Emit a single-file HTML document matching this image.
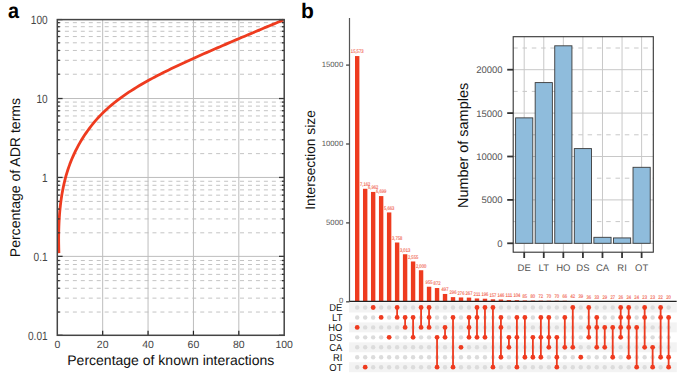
<!DOCTYPE html>
<html><head><meta charset="utf-8"><style>
html,body{margin:0;padding:0;background:#fff;}
svg{display:block;text-rendering:geometricPrecision;}
</style></head><body>
<svg width="685" height="377" viewBox="0 0 685 377">
<rect width="685" height="377" fill="#fff"/>
<text transform="translate(7.9,17.75) scale(0.93,1)" font-family="Liberation Sans, sans-serif" font-size="21.4" font-weight="bold" fill="#000">a</text>
<line x1="56.94" x2="284.2" y1="312.04" y2="312.04" stroke="#c4c4c4" stroke-width="1" stroke-dasharray="4 3.96"/>
<line x1="56.94" x2="284.2" y1="298.14" y2="298.14" stroke="#c4c4c4" stroke-width="1" stroke-dasharray="4 3.96"/>
<line x1="56.94" x2="284.2" y1="288.28" y2="288.28" stroke="#c4c4c4" stroke-width="1" stroke-dasharray="4 3.96"/>
<line x1="56.94" x2="284.2" y1="280.63" y2="280.63" stroke="#c4c4c4" stroke-width="1" stroke-dasharray="4 3.96"/>
<line x1="56.94" x2="284.2" y1="274.38" y2="274.38" stroke="#c4c4c4" stroke-width="1" stroke-dasharray="4 3.96"/>
<line x1="56.94" x2="284.2" y1="269.10" y2="269.10" stroke="#c4c4c4" stroke-width="1" stroke-dasharray="4 3.96"/>
<line x1="56.94" x2="284.2" y1="264.52" y2="264.52" stroke="#c4c4c4" stroke-width="1" stroke-dasharray="4 3.96"/>
<line x1="56.94" x2="284.2" y1="260.49" y2="260.49" stroke="#c4c4c4" stroke-width="1" stroke-dasharray="4 3.96"/>
<line x1="56.94" x2="284.2" y1="232.82" y2="232.82" stroke="#c4c4c4" stroke-width="1" stroke-dasharray="4 3.96"/>
<line x1="56.94" x2="284.2" y1="218.92" y2="218.92" stroke="#c4c4c4" stroke-width="1" stroke-dasharray="4 3.96"/>
<line x1="56.94" x2="284.2" y1="209.06" y2="209.06" stroke="#c4c4c4" stroke-width="1" stroke-dasharray="4 3.96"/>
<line x1="56.94" x2="284.2" y1="201.41" y2="201.41" stroke="#c4c4c4" stroke-width="1" stroke-dasharray="4 3.96"/>
<line x1="56.94" x2="284.2" y1="195.16" y2="195.16" stroke="#c4c4c4" stroke-width="1" stroke-dasharray="4 3.96"/>
<line x1="56.94" x2="284.2" y1="189.88" y2="189.88" stroke="#c4c4c4" stroke-width="1" stroke-dasharray="4 3.96"/>
<line x1="56.94" x2="284.2" y1="185.30" y2="185.30" stroke="#c4c4c4" stroke-width="1" stroke-dasharray="4 3.96"/>
<line x1="56.94" x2="284.2" y1="181.26" y2="181.26" stroke="#c4c4c4" stroke-width="1" stroke-dasharray="4 3.96"/>
<line x1="56.94" x2="284.2" y1="153.64" y2="153.64" stroke="#c4c4c4" stroke-width="1" stroke-dasharray="4 3.96"/>
<line x1="56.94" x2="284.2" y1="139.74" y2="139.74" stroke="#c4c4c4" stroke-width="1" stroke-dasharray="4 3.96"/>
<line x1="56.94" x2="284.2" y1="129.88" y2="129.88" stroke="#c4c4c4" stroke-width="1" stroke-dasharray="4 3.96"/>
<line x1="56.94" x2="284.2" y1="122.23" y2="122.23" stroke="#c4c4c4" stroke-width="1" stroke-dasharray="4 3.96"/>
<line x1="56.94" x2="284.2" y1="115.98" y2="115.98" stroke="#c4c4c4" stroke-width="1" stroke-dasharray="4 3.96"/>
<line x1="56.94" x2="284.2" y1="110.70" y2="110.70" stroke="#c4c4c4" stroke-width="1" stroke-dasharray="4 3.96"/>
<line x1="56.94" x2="284.2" y1="106.12" y2="106.12" stroke="#c4c4c4" stroke-width="1" stroke-dasharray="4 3.96"/>
<line x1="56.94" x2="284.2" y1="102.09" y2="102.09" stroke="#c4c4c4" stroke-width="1" stroke-dasharray="4 3.96"/>
<line x1="56.94" x2="284.2" y1="74.22" y2="74.22" stroke="#c4c4c4" stroke-width="1" stroke-dasharray="4 3.96"/>
<line x1="56.94" x2="284.2" y1="60.32" y2="60.32" stroke="#c4c4c4" stroke-width="1" stroke-dasharray="4 3.96"/>
<line x1="56.94" x2="284.2" y1="50.46" y2="50.46" stroke="#c4c4c4" stroke-width="1" stroke-dasharray="4 3.96"/>
<line x1="56.94" x2="284.2" y1="42.81" y2="42.81" stroke="#c4c4c4" stroke-width="1" stroke-dasharray="4 3.96"/>
<line x1="56.94" x2="284.2" y1="36.56" y2="36.56" stroke="#c4c4c4" stroke-width="1" stroke-dasharray="4 3.96"/>
<line x1="56.94" x2="284.2" y1="31.28" y2="31.28" stroke="#c4c4c4" stroke-width="1" stroke-dasharray="4 3.96"/>
<line x1="56.94" x2="284.2" y1="26.70" y2="26.70" stroke="#c4c4c4" stroke-width="1" stroke-dasharray="4 3.96"/>
<line x1="56.94" x2="284.2" y1="22.66" y2="22.66" stroke="#c4c4c4" stroke-width="1" stroke-dasharray="4 3.96"/>
<line x1="57.3" x2="284.2" y1="256.38" y2="256.38" stroke="#bdbdbd" stroke-width="1"/>
<line x1="57.3" x2="284.2" y1="177.45" y2="177.45" stroke="#bdbdbd" stroke-width="1"/>
<line x1="57.3" x2="284.2" y1="98.53" y2="98.53" stroke="#bdbdbd" stroke-width="1"/>
<line x1="102.68" x2="102.68" y1="19.6" y2="335.3" stroke="#bdbdbd" stroke-width="1"/>
<line x1="148.06" x2="148.06" y1="19.6" y2="335.3" stroke="#bdbdbd" stroke-width="1"/>
<line x1="193.44" x2="193.44" y1="19.6" y2="335.3" stroke="#bdbdbd" stroke-width="1"/>
<line x1="238.82" x2="238.82" y1="19.6" y2="335.3" stroke="#bdbdbd" stroke-width="1"/>
<path d="M58.91,253.11 L58.83,250.21 L58.76,247.30 L58.71,244.37 L58.67,241.42 L58.66,238.46 L58.68,235.48 L58.71,232.50 L58.78,229.50 L58.87,226.50 L58.99,223.49 L59.14,220.47 L59.32,217.46 L59.53,214.44 L59.78,211.42 L60.07,208.40 L60.39,205.38 L60.76,202.37 L61.16,199.37 L61.61,196.37 L62.10,193.38 L62.64,190.41 L63.22,187.44 L63.85,184.49 L64.54,181.56 L65.27,178.64 L66.06,175.74 L66.90,172.86 L67.80,170.00 L68.76,167.17 L69.77,164.36 L70.84,161.58 L71.96,158.82 L73.14,156.08 L74.37,153.38 L75.66,150.70 L77.00,148.06 L78.39,145.44 L79.83,142.86 L81.33,140.31 L82.88,137.79 L84.48,135.30 L86.14,132.85 L87.84,130.44 L89.59,128.07 L91.39,125.73 L93.24,123.43 L95.14,121.17 L97.09,118.95 L99.09,116.77 L101.13,114.64 L103.22,112.55 L105.36,110.50 L107.54,108.50 L109.76,106.54 L112.03,104.61 L114.33,102.73 L116.67,100.89 L119.04,99.08 L121.45,97.31 L123.89,95.57 L126.36,93.87 L128.85,92.20 L131.37,90.56 L133.92,88.95 L136.48,87.36 L139.07,85.81 L141.67,84.28 L144.29,82.77 L146.92,81.29 L149.57,79.83 L152.23,78.39 L154.89,76.97 L157.56,75.57 L160.24,74.19 L162.93,72.82 L165.62,71.47 L168.32,70.14 L171.02,68.82 L173.73,67.51 L176.45,66.22 L179.16,64.94 L181.88,63.67 L184.61,62.42 L187.34,61.17 L190.06,59.93 L192.79,58.70 L195.53,57.47 L198.26,56.26 L200.99,55.05 L203.72,53.84 L206.45,52.64 L209.18,51.44 L211.92,50.25 L214.65,49.06 L217.38,47.87 L220.11,46.69 L222.85,45.51 L225.58,44.34 L228.32,43.16 L231.05,41.99 L233.79,40.83 L236.53,39.66 L239.27,38.50 L242.01,37.33 L244.75,36.17 L247.50,35.01 L250.25,33.86 L252.99,32.70 L255.75,31.54 L258.50,30.38 L261.26,29.23 L264.02,28.07 L266.78,26.91 L269.55,25.76 L272.31,24.60 L275.09,23.44 L277.86,22.28 L280.64,21.12 L283.42,19.95" fill="none" stroke="#ee3b1f" stroke-width="2.8" stroke-linejoin="round"/>
<line x1="57.3" x2="62.599999999999994" y1="335.30" y2="335.30" stroke="#333" stroke-width="1.3"/>
<line x1="284.2" x2="279.0" y1="335.30" y2="335.30" stroke="#333" stroke-width="1.3"/>
<line x1="57.3" x2="59.8" y1="312.04" y2="312.04" stroke="#333" stroke-width="1.3"/>
<line x1="284.2" x2="281.9" y1="312.04" y2="312.04" stroke="#333" stroke-width="1.3"/>
<line x1="57.3" x2="59.8" y1="298.14" y2="298.14" stroke="#333" stroke-width="1.3"/>
<line x1="284.2" x2="281.9" y1="298.14" y2="298.14" stroke="#333" stroke-width="1.3"/>
<line x1="57.3" x2="59.8" y1="288.28" y2="288.28" stroke="#333" stroke-width="1.3"/>
<line x1="284.2" x2="281.9" y1="288.28" y2="288.28" stroke="#333" stroke-width="1.3"/>
<line x1="57.3" x2="59.8" y1="280.63" y2="280.63" stroke="#333" stroke-width="1.3"/>
<line x1="284.2" x2="281.9" y1="280.63" y2="280.63" stroke="#333" stroke-width="1.3"/>
<line x1="57.3" x2="59.8" y1="274.38" y2="274.38" stroke="#333" stroke-width="1.3"/>
<line x1="284.2" x2="281.9" y1="274.38" y2="274.38" stroke="#333" stroke-width="1.3"/>
<line x1="57.3" x2="59.8" y1="269.10" y2="269.10" stroke="#333" stroke-width="1.3"/>
<line x1="284.2" x2="281.9" y1="269.10" y2="269.10" stroke="#333" stroke-width="1.3"/>
<line x1="57.3" x2="59.8" y1="264.52" y2="264.52" stroke="#333" stroke-width="1.3"/>
<line x1="284.2" x2="281.9" y1="264.52" y2="264.52" stroke="#333" stroke-width="1.3"/>
<line x1="57.3" x2="59.8" y1="260.49" y2="260.49" stroke="#333" stroke-width="1.3"/>
<line x1="284.2" x2="281.9" y1="260.49" y2="260.49" stroke="#333" stroke-width="1.3"/>
<line x1="57.3" x2="62.599999999999994" y1="256.38" y2="256.38" stroke="#333" stroke-width="1.3"/>
<line x1="284.2" x2="279.0" y1="256.38" y2="256.38" stroke="#333" stroke-width="1.3"/>
<line x1="57.3" x2="59.8" y1="232.82" y2="232.82" stroke="#333" stroke-width="1.3"/>
<line x1="284.2" x2="281.9" y1="232.82" y2="232.82" stroke="#333" stroke-width="1.3"/>
<line x1="57.3" x2="59.8" y1="218.92" y2="218.92" stroke="#333" stroke-width="1.3"/>
<line x1="284.2" x2="281.9" y1="218.92" y2="218.92" stroke="#333" stroke-width="1.3"/>
<line x1="57.3" x2="59.8" y1="209.06" y2="209.06" stroke="#333" stroke-width="1.3"/>
<line x1="284.2" x2="281.9" y1="209.06" y2="209.06" stroke="#333" stroke-width="1.3"/>
<line x1="57.3" x2="59.8" y1="201.41" y2="201.41" stroke="#333" stroke-width="1.3"/>
<line x1="284.2" x2="281.9" y1="201.41" y2="201.41" stroke="#333" stroke-width="1.3"/>
<line x1="57.3" x2="59.8" y1="195.16" y2="195.16" stroke="#333" stroke-width="1.3"/>
<line x1="284.2" x2="281.9" y1="195.16" y2="195.16" stroke="#333" stroke-width="1.3"/>
<line x1="57.3" x2="59.8" y1="189.88" y2="189.88" stroke="#333" stroke-width="1.3"/>
<line x1="284.2" x2="281.9" y1="189.88" y2="189.88" stroke="#333" stroke-width="1.3"/>
<line x1="57.3" x2="59.8" y1="185.30" y2="185.30" stroke="#333" stroke-width="1.3"/>
<line x1="284.2" x2="281.9" y1="185.30" y2="185.30" stroke="#333" stroke-width="1.3"/>
<line x1="57.3" x2="59.8" y1="181.26" y2="181.26" stroke="#333" stroke-width="1.3"/>
<line x1="284.2" x2="281.9" y1="181.26" y2="181.26" stroke="#333" stroke-width="1.3"/>
<line x1="57.3" x2="62.599999999999994" y1="177.45" y2="177.45" stroke="#333" stroke-width="1.3"/>
<line x1="284.2" x2="279.0" y1="177.45" y2="177.45" stroke="#333" stroke-width="1.3"/>
<line x1="57.3" x2="59.8" y1="153.64" y2="153.64" stroke="#333" stroke-width="1.3"/>
<line x1="284.2" x2="281.9" y1="153.64" y2="153.64" stroke="#333" stroke-width="1.3"/>
<line x1="57.3" x2="59.8" y1="139.74" y2="139.74" stroke="#333" stroke-width="1.3"/>
<line x1="284.2" x2="281.9" y1="139.74" y2="139.74" stroke="#333" stroke-width="1.3"/>
<line x1="57.3" x2="59.8" y1="129.88" y2="129.88" stroke="#333" stroke-width="1.3"/>
<line x1="284.2" x2="281.9" y1="129.88" y2="129.88" stroke="#333" stroke-width="1.3"/>
<line x1="57.3" x2="59.8" y1="122.23" y2="122.23" stroke="#333" stroke-width="1.3"/>
<line x1="284.2" x2="281.9" y1="122.23" y2="122.23" stroke="#333" stroke-width="1.3"/>
<line x1="57.3" x2="59.8" y1="115.98" y2="115.98" stroke="#333" stroke-width="1.3"/>
<line x1="284.2" x2="281.9" y1="115.98" y2="115.98" stroke="#333" stroke-width="1.3"/>
<line x1="57.3" x2="59.8" y1="110.70" y2="110.70" stroke="#333" stroke-width="1.3"/>
<line x1="284.2" x2="281.9" y1="110.70" y2="110.70" stroke="#333" stroke-width="1.3"/>
<line x1="57.3" x2="59.8" y1="106.12" y2="106.12" stroke="#333" stroke-width="1.3"/>
<line x1="284.2" x2="281.9" y1="106.12" y2="106.12" stroke="#333" stroke-width="1.3"/>
<line x1="57.3" x2="59.8" y1="102.09" y2="102.09" stroke="#333" stroke-width="1.3"/>
<line x1="284.2" x2="281.9" y1="102.09" y2="102.09" stroke="#333" stroke-width="1.3"/>
<line x1="57.3" x2="62.599999999999994" y1="98.53" y2="98.53" stroke="#333" stroke-width="1.3"/>
<line x1="284.2" x2="279.0" y1="98.53" y2="98.53" stroke="#333" stroke-width="1.3"/>
<line x1="57.3" x2="59.8" y1="74.22" y2="74.22" stroke="#333" stroke-width="1.3"/>
<line x1="284.2" x2="281.9" y1="74.22" y2="74.22" stroke="#333" stroke-width="1.3"/>
<line x1="57.3" x2="59.8" y1="60.32" y2="60.32" stroke="#333" stroke-width="1.3"/>
<line x1="284.2" x2="281.9" y1="60.32" y2="60.32" stroke="#333" stroke-width="1.3"/>
<line x1="57.3" x2="59.8" y1="50.46" y2="50.46" stroke="#333" stroke-width="1.3"/>
<line x1="284.2" x2="281.9" y1="50.46" y2="50.46" stroke="#333" stroke-width="1.3"/>
<line x1="57.3" x2="59.8" y1="42.81" y2="42.81" stroke="#333" stroke-width="1.3"/>
<line x1="284.2" x2="281.9" y1="42.81" y2="42.81" stroke="#333" stroke-width="1.3"/>
<line x1="57.3" x2="59.8" y1="36.56" y2="36.56" stroke="#333" stroke-width="1.3"/>
<line x1="284.2" x2="281.9" y1="36.56" y2="36.56" stroke="#333" stroke-width="1.3"/>
<line x1="57.3" x2="59.8" y1="31.28" y2="31.28" stroke="#333" stroke-width="1.3"/>
<line x1="284.2" x2="281.9" y1="31.28" y2="31.28" stroke="#333" stroke-width="1.3"/>
<line x1="57.3" x2="59.8" y1="26.70" y2="26.70" stroke="#333" stroke-width="1.3"/>
<line x1="284.2" x2="281.9" y1="26.70" y2="26.70" stroke="#333" stroke-width="1.3"/>
<line x1="57.3" x2="59.8" y1="22.66" y2="22.66" stroke="#333" stroke-width="1.3"/>
<line x1="284.2" x2="281.9" y1="22.66" y2="22.66" stroke="#333" stroke-width="1.3"/>
<line x1="57.3" x2="62.599999999999994" y1="19.60" y2="19.60" stroke="#333" stroke-width="1.3"/>
<line x1="284.2" x2="279.0" y1="19.60" y2="19.60" stroke="#333" stroke-width="1.3"/>
<line x1="102.68" x2="102.68" y1="335.3" y2="330.8" stroke="#222" stroke-width="1.2"/>
<line x1="148.06" x2="148.06" y1="335.3" y2="330.8" stroke="#222" stroke-width="1.2"/>
<line x1="193.44" x2="193.44" y1="335.3" y2="330.8" stroke="#222" stroke-width="1.2"/>
<line x1="238.82" x2="238.82" y1="335.3" y2="330.8" stroke="#222" stroke-width="1.2"/>
<rect x="57.3" y="19.6" width="226.90" height="315.70" fill="none" stroke="#444" stroke-width="1.5"/>
<text transform="translate(47.6,24.10) scale(0.84,1)" font-family="Liberation Sans, sans-serif" font-size="12" fill="#444" text-anchor="end">100</text>
<text transform="translate(47.6,103.03) scale(0.84,1)" font-family="Liberation Sans, sans-serif" font-size="12" fill="#444" text-anchor="end">10</text>
<text transform="translate(47.6,181.95) scale(0.84,1)" font-family="Liberation Sans, sans-serif" font-size="12" fill="#444" text-anchor="end">1</text>
<text transform="translate(47.6,260.88) scale(0.84,1)" font-family="Liberation Sans, sans-serif" font-size="12" fill="#444" text-anchor="end">0.1</text>
<text transform="translate(47.6,339.80) scale(0.84,1)" font-family="Liberation Sans, sans-serif" font-size="12" fill="#444" text-anchor="end">0.01</text>
<text x="57.30" y="348" font-family="Liberation Sans, sans-serif" font-size="10.5" fill="#444" text-anchor="middle">0</text>
<text x="102.68" y="348" font-family="Liberation Sans, sans-serif" font-size="10.5" fill="#444" text-anchor="middle">20</text>
<text x="148.06" y="348" font-family="Liberation Sans, sans-serif" font-size="10.5" fill="#444" text-anchor="middle">40</text>
<text x="193.44" y="348" font-family="Liberation Sans, sans-serif" font-size="10.5" fill="#444" text-anchor="middle">60</text>
<text x="238.82" y="348" font-family="Liberation Sans, sans-serif" font-size="10.5" fill="#444" text-anchor="middle">80</text>
<text x="284.20" y="348" font-family="Liberation Sans, sans-serif" font-size="10.5" fill="#444" text-anchor="middle">100</text>
<text x="170.8" y="364.6" font-family="Liberation Sans, sans-serif" font-size="14" fill="#111" text-anchor="middle">Percentage of known interactions</text>
<text transform="translate(19.8,177.6) rotate(-90)" font-family="Liberation Sans, sans-serif" font-size="14.05" fill="#111" text-anchor="middle">Percentage of ADR terms</text>
<text x="301" y="17.7" font-family="Liberation Sans, sans-serif" font-size="21" font-weight="bold" fill="#000">b</text>
<rect x="349" y="302.52" width="327.8" height="9.95" fill="#f3f3f3"/>
<rect x="349" y="322.42" width="327.8" height="9.95" fill="#f3f3f3"/>
<rect x="349" y="342.32" width="327.8" height="9.95" fill="#f3f3f3"/>
<rect x="349" y="362.22" width="327.8" height="9.95" fill="#f3f3f3"/>
<rect x="355.00" y="56.06" width="4.4" height="245.74" fill="#ee3b1f"/>
<text x="357.20" y="53.36" font-family="Liberation Sans, sans-serif" font-size="5.2" fill="#ee4a35" stroke="#f58a78" stroke-width="0.15" text-anchor="middle" textLength="12.72" lengthAdjust="spacingAndGlyphs">15,573</text>
<rect x="362.99" y="188.78" width="4.4" height="113.02" fill="#ee3b1f"/>
<text x="365.19" y="186.08" font-family="Liberation Sans, sans-serif" font-size="5.2" fill="#ee4a35" stroke="#f58a78" stroke-width="0.15" text-anchor="middle" textLength="10.41" lengthAdjust="spacingAndGlyphs">7,162</text>
<rect x="370.97" y="191.94" width="4.4" height="109.86" fill="#ee3b1f"/>
<text x="373.17" y="189.24" font-family="Liberation Sans, sans-serif" font-size="5.2" fill="#ee4a35" stroke="#f58a78" stroke-width="0.15" text-anchor="middle" textLength="10.41" lengthAdjust="spacingAndGlyphs">6,962</text>
<rect x="378.95" y="196.09" width="4.4" height="105.71" fill="#ee3b1f"/>
<text x="381.15" y="193.39" font-family="Liberation Sans, sans-serif" font-size="5.2" fill="#ee4a35" stroke="#f58a78" stroke-width="0.15" text-anchor="middle" textLength="10.41" lengthAdjust="spacingAndGlyphs">6,699</text>
<rect x="386.94" y="212.44" width="4.4" height="89.36" fill="#ee3b1f"/>
<text x="389.14" y="209.74" font-family="Liberation Sans, sans-serif" font-size="5.2" fill="#ee4a35" stroke="#f58a78" stroke-width="0.15" text-anchor="middle" textLength="10.41" lengthAdjust="spacingAndGlyphs">5,663</text>
<rect x="394.93" y="242.50" width="4.4" height="59.30" fill="#ee3b1f"/>
<text x="397.12" y="239.80" font-family="Liberation Sans, sans-serif" font-size="5.2" fill="#ee4a35" stroke="#f58a78" stroke-width="0.15" text-anchor="middle" textLength="10.41" lengthAdjust="spacingAndGlyphs">3,758</text>
<rect x="402.91" y="254.25" width="4.4" height="47.55" fill="#ee3b1f"/>
<text x="405.11" y="251.55" font-family="Liberation Sans, sans-serif" font-size="5.2" fill="#ee4a35" stroke="#f58a78" stroke-width="0.15" text-anchor="middle" textLength="10.41" lengthAdjust="spacingAndGlyphs">3,013</text>
<rect x="410.89" y="261.48" width="4.4" height="40.32" fill="#ee3b1f"/>
<text x="413.09" y="258.78" font-family="Liberation Sans, sans-serif" font-size="5.2" fill="#ee4a35" stroke="#f58a78" stroke-width="0.15" text-anchor="middle" textLength="10.41" lengthAdjust="spacingAndGlyphs">2,555</text>
<rect x="418.88" y="270.24" width="4.4" height="31.56" fill="#ee3b1f"/>
<text x="421.08" y="267.54" font-family="Liberation Sans, sans-serif" font-size="5.2" fill="#ee4a35" stroke="#f58a78" stroke-width="0.15" text-anchor="middle" textLength="10.41" lengthAdjust="spacingAndGlyphs">2,000</text>
<rect x="426.87" y="286.73" width="4.4" height="15.07" fill="#ee3b1f"/>
<text x="429.06" y="284.03" font-family="Liberation Sans, sans-serif" font-size="5.2" fill="#ee4a35" stroke="#f58a78" stroke-width="0.15" text-anchor="middle" textLength="6.94" lengthAdjust="spacingAndGlyphs">955</text>
<rect x="434.85" y="288.04" width="4.4" height="13.76" fill="#ee3b1f"/>
<text x="437.05" y="285.34" font-family="Liberation Sans, sans-serif" font-size="5.2" fill="#ee4a35" stroke="#f58a78" stroke-width="0.15" text-anchor="middle" textLength="6.94" lengthAdjust="spacingAndGlyphs">872</text>
<rect x="442.83" y="293.96" width="4.4" height="7.84" fill="#ee3b1f"/>
<text x="445.03" y="291.26" font-family="Liberation Sans, sans-serif" font-size="5.2" fill="#ee4a35" stroke="#f58a78" stroke-width="0.15" text-anchor="middle" textLength="6.94" lengthAdjust="spacingAndGlyphs">497</text>
<rect x="450.82" y="297.13" width="4.4" height="4.67" fill="#ee3b1f"/>
<text x="453.02" y="294.43" font-family="Liberation Sans, sans-serif" font-size="5.2" fill="#ee4a35" stroke="#f58a78" stroke-width="0.15" text-anchor="middle" textLength="6.94" lengthAdjust="spacingAndGlyphs">296</text>
<rect x="458.81" y="297.44" width="4.4" height="4.36" fill="#ee3b1f"/>
<text x="461.00" y="294.74" font-family="Liberation Sans, sans-serif" font-size="5.2" fill="#ee4a35" stroke="#f58a78" stroke-width="0.15" text-anchor="middle" textLength="6.94" lengthAdjust="spacingAndGlyphs">276</text>
<rect x="466.79" y="297.59" width="4.4" height="4.21" fill="#ee3b1f"/>
<text x="468.99" y="294.89" font-family="Liberation Sans, sans-serif" font-size="5.2" fill="#ee4a35" stroke="#f58a78" stroke-width="0.15" text-anchor="middle" textLength="6.94" lengthAdjust="spacingAndGlyphs">267</text>
<rect x="474.78" y="298.47" width="4.4" height="3.33" fill="#ee3b1f"/>
<text x="476.98" y="295.77" font-family="Liberation Sans, sans-serif" font-size="5.2" fill="#ee4a35" stroke="#f58a78" stroke-width="0.15" text-anchor="middle" textLength="6.94" lengthAdjust="spacingAndGlyphs">211</text>
<rect x="482.76" y="298.71" width="4.4" height="3.09" fill="#ee3b1f"/>
<text x="484.96" y="296.01" font-family="Liberation Sans, sans-serif" font-size="5.2" fill="#ee4a35" stroke="#f58a78" stroke-width="0.15" text-anchor="middle" textLength="6.94" lengthAdjust="spacingAndGlyphs">196</text>
<rect x="490.75" y="299.32" width="4.4" height="2.48" fill="#ee3b1f"/>
<text x="492.94" y="296.62" font-family="Liberation Sans, sans-serif" font-size="5.2" fill="#ee4a35" stroke="#f58a78" stroke-width="0.15" text-anchor="middle" textLength="6.94" lengthAdjust="spacingAndGlyphs">157</text>
<rect x="498.73" y="299.50" width="4.4" height="2.30" fill="#ee3b1f"/>
<text x="500.93" y="296.80" font-family="Liberation Sans, sans-serif" font-size="5.2" fill="#ee4a35" stroke="#f58a78" stroke-width="0.15" text-anchor="middle" textLength="6.94" lengthAdjust="spacingAndGlyphs">146</text>
<rect x="506.71" y="300.05" width="4.4" height="1.75" fill="#ee3b1f"/>
<text x="508.91" y="297.35" font-family="Liberation Sans, sans-serif" font-size="5.2" fill="#ee4a35" stroke="#f58a78" stroke-width="0.15" text-anchor="middle" textLength="6.94" lengthAdjust="spacingAndGlyphs">111</text>
<rect x="514.70" y="300.16" width="4.4" height="1.64" fill="#ee3b1f"/>
<text x="516.90" y="297.46" font-family="Liberation Sans, sans-serif" font-size="5.2" fill="#ee4a35" stroke="#f58a78" stroke-width="0.15" text-anchor="middle" textLength="6.94" lengthAdjust="spacingAndGlyphs">104</text>
<rect x="522.68" y="300.46" width="4.4" height="1.34" fill="#ee3b1f"/>
<text x="524.88" y="297.76" font-family="Liberation Sans, sans-serif" font-size="5.2" fill="#ee4a35" stroke="#f58a78" stroke-width="0.15" text-anchor="middle" textLength="4.63" lengthAdjust="spacingAndGlyphs">85</text>
<rect x="530.67" y="300.54" width="4.4" height="1.26" fill="#ee3b1f"/>
<text x="532.87" y="297.84" font-family="Liberation Sans, sans-serif" font-size="5.2" fill="#ee4a35" stroke="#f58a78" stroke-width="0.15" text-anchor="middle" textLength="4.63" lengthAdjust="spacingAndGlyphs">80</text>
<rect x="538.65" y="300.66" width="4.4" height="1.14" fill="#ee3b1f"/>
<text x="540.86" y="297.96" font-family="Liberation Sans, sans-serif" font-size="5.2" fill="#ee4a35" stroke="#f58a78" stroke-width="0.15" text-anchor="middle" textLength="4.63" lengthAdjust="spacingAndGlyphs">72</text>
<rect x="546.64" y="300.70" width="4.4" height="1.10" fill="#ee3b1f"/>
<text x="548.84" y="298.00" font-family="Liberation Sans, sans-serif" font-size="5.2" fill="#ee4a35" stroke="#f58a78" stroke-width="0.15" text-anchor="middle" textLength="4.63" lengthAdjust="spacingAndGlyphs">70</text>
<rect x="554.62" y="300.70" width="4.4" height="1.10" fill="#ee3b1f"/>
<text x="556.83" y="298.00" font-family="Liberation Sans, sans-serif" font-size="5.2" fill="#ee4a35" stroke="#f58a78" stroke-width="0.15" text-anchor="middle" textLength="4.63" lengthAdjust="spacingAndGlyphs">70</text>
<rect x="562.61" y="300.76" width="4.4" height="1.04" fill="#ee3b1f"/>
<text x="564.81" y="298.06" font-family="Liberation Sans, sans-serif" font-size="5.2" fill="#ee4a35" stroke="#f58a78" stroke-width="0.15" text-anchor="middle" textLength="4.63" lengthAdjust="spacingAndGlyphs">66</text>
<rect x="570.59" y="301.14" width="4.4" height="0.66" fill="#ee3b1f"/>
<text x="572.79" y="298.44" font-family="Liberation Sans, sans-serif" font-size="5.2" fill="#ee4a35" stroke="#f58a78" stroke-width="0.15" text-anchor="middle" textLength="4.63" lengthAdjust="spacingAndGlyphs">42</text>
<rect x="578.58" y="301.18" width="4.4" height="0.62" fill="#ee3b1f"/>
<text x="580.78" y="298.48" font-family="Liberation Sans, sans-serif" font-size="5.2" fill="#ee4a35" stroke="#f58a78" stroke-width="0.15" text-anchor="middle" textLength="4.63" lengthAdjust="spacingAndGlyphs">39</text>
<rect x="586.56" y="301.23" width="4.4" height="0.57" fill="#ee3b1f"/>
<text x="588.76" y="298.53" font-family="Liberation Sans, sans-serif" font-size="5.2" fill="#ee4a35" stroke="#f58a78" stroke-width="0.15" text-anchor="middle" textLength="4.63" lengthAdjust="spacingAndGlyphs">36</text>
<rect x="594.55" y="301.28" width="4.4" height="0.52" fill="#ee3b1f"/>
<text x="596.75" y="298.58" font-family="Liberation Sans, sans-serif" font-size="5.2" fill="#ee4a35" stroke="#f58a78" stroke-width="0.15" text-anchor="middle" textLength="4.63" lengthAdjust="spacingAndGlyphs">33</text>
<rect x="602.53" y="301.34" width="4.4" height="0.46" fill="#ee3b1f"/>
<text x="604.74" y="298.64" font-family="Liberation Sans, sans-serif" font-size="5.2" fill="#ee4a35" stroke="#f58a78" stroke-width="0.15" text-anchor="middle" textLength="4.63" lengthAdjust="spacingAndGlyphs">29</text>
<rect x="610.52" y="301.37" width="4.4" height="0.43" fill="#ee3b1f"/>
<text x="612.72" y="298.67" font-family="Liberation Sans, sans-serif" font-size="5.2" fill="#ee4a35" stroke="#f58a78" stroke-width="0.15" text-anchor="middle" textLength="4.63" lengthAdjust="spacingAndGlyphs">27</text>
<rect x="618.50" y="301.39" width="4.4" height="0.41" fill="#ee3b1f"/>
<text x="620.70" y="298.69" font-family="Liberation Sans, sans-serif" font-size="5.2" fill="#ee4a35" stroke="#f58a78" stroke-width="0.15" text-anchor="middle" textLength="4.63" lengthAdjust="spacingAndGlyphs">26</text>
<rect x="626.49" y="301.42" width="4.4" height="0.38" fill="#ee3b1f"/>
<text x="628.69" y="298.72" font-family="Liberation Sans, sans-serif" font-size="5.2" fill="#ee4a35" stroke="#f58a78" stroke-width="0.15" text-anchor="middle" textLength="4.63" lengthAdjust="spacingAndGlyphs">24</text>
<rect x="634.47" y="301.42" width="4.4" height="0.38" fill="#ee3b1f"/>
<text x="636.67" y="298.72" font-family="Liberation Sans, sans-serif" font-size="5.2" fill="#ee4a35" stroke="#f58a78" stroke-width="0.15" text-anchor="middle" textLength="4.63" lengthAdjust="spacingAndGlyphs">24</text>
<rect x="642.46" y="301.44" width="4.4" height="0.36" fill="#ee3b1f"/>
<text x="644.66" y="298.74" font-family="Liberation Sans, sans-serif" font-size="5.2" fill="#ee4a35" stroke="#f58a78" stroke-width="0.15" text-anchor="middle" textLength="4.63" lengthAdjust="spacingAndGlyphs">23</text>
<rect x="650.44" y="301.44" width="4.4" height="0.36" fill="#ee3b1f"/>
<text x="652.64" y="298.74" font-family="Liberation Sans, sans-serif" font-size="5.2" fill="#ee4a35" stroke="#f58a78" stroke-width="0.15" text-anchor="middle" textLength="4.63" lengthAdjust="spacingAndGlyphs">23</text>
<rect x="658.43" y="301.45" width="4.4" height="0.35" fill="#ee3b1f"/>
<text x="660.63" y="298.75" font-family="Liberation Sans, sans-serif" font-size="5.2" fill="#ee4a35" stroke="#f58a78" stroke-width="0.15" text-anchor="middle" textLength="4.63" lengthAdjust="spacingAndGlyphs">22</text>
<rect x="666.41" y="301.48" width="4.4" height="0.32" fill="#ee3b1f"/>
<text x="668.62" y="298.78" font-family="Liberation Sans, sans-serif" font-size="5.2" fill="#ee4a35" stroke="#f58a78" stroke-width="0.15" text-anchor="middle" textLength="4.63" lengthAdjust="spacingAndGlyphs">20</text>
<line x1="349.5" x2="349.5" y1="17.9" y2="301.8" stroke="#555" stroke-width="1.2"/>
<line x1="349.5" x2="676.7" y1="301.4" y2="301.4" stroke="#222" stroke-width="1.3"/>
<line x1="346.1" x2="349.5" y1="301.80" y2="301.80" stroke="#444" stroke-width="1.3"/>
<text x="343.2" y="303.40" font-family="Liberation Sans, sans-serif" font-size="7.7" fill="#555" text-anchor="end">0</text>
<line x1="346.1" x2="349.5" y1="222.90" y2="222.90" stroke="#444" stroke-width="1.3"/>
<text x="343.2" y="224.50" font-family="Liberation Sans, sans-serif" font-size="7.7" fill="#555" text-anchor="end">5000</text>
<line x1="346.1" x2="349.5" y1="144.00" y2="144.00" stroke="#444" stroke-width="1.3"/>
<text x="343.2" y="145.60" font-family="Liberation Sans, sans-serif" font-size="7.7" fill="#555" text-anchor="end">10000</text>
<line x1="346.1" x2="349.5" y1="65.10" y2="65.10" stroke="#444" stroke-width="1.3"/>
<text x="343.2" y="66.70" font-family="Liberation Sans, sans-serif" font-size="7.7" fill="#555" text-anchor="end">15000</text>
<text transform="translate(314.6,160) rotate(-90)" font-family="Liberation Sans, sans-serif" font-size="13.8" fill="#111" text-anchor="middle">Intersection size</text>
<circle cx="357.20" cy="307.50" r="2.2" fill="#dcdcdc"/>
<circle cx="357.20" cy="317.45" r="2.2" fill="#dcdcdc"/>
<circle cx="357.20" cy="337.35" r="2.2" fill="#dcdcdc"/>
<circle cx="357.20" cy="347.30" r="2.2" fill="#dcdcdc"/>
<circle cx="357.20" cy="357.25" r="2.2" fill="#dcdcdc"/>
<circle cx="357.20" cy="367.20" r="2.2" fill="#dcdcdc"/>
<circle cx="357.20" cy="327.40" r="2.4" fill="#ee3b1f"/>
<circle cx="365.19" cy="307.50" r="2.2" fill="#dcdcdc"/>
<circle cx="365.19" cy="317.45" r="2.2" fill="#dcdcdc"/>
<circle cx="365.19" cy="327.40" r="2.2" fill="#dcdcdc"/>
<circle cx="365.19" cy="337.35" r="2.2" fill="#dcdcdc"/>
<circle cx="365.19" cy="347.30" r="2.2" fill="#dcdcdc"/>
<circle cx="365.19" cy="357.25" r="2.2" fill="#dcdcdc"/>
<circle cx="365.19" cy="367.20" r="2.4" fill="#ee3b1f"/>
<circle cx="373.17" cy="317.45" r="2.2" fill="#dcdcdc"/>
<circle cx="373.17" cy="327.40" r="2.2" fill="#dcdcdc"/>
<circle cx="373.17" cy="337.35" r="2.2" fill="#dcdcdc"/>
<circle cx="373.17" cy="347.30" r="2.2" fill="#dcdcdc"/>
<circle cx="373.17" cy="357.25" r="2.2" fill="#dcdcdc"/>
<circle cx="373.17" cy="367.20" r="2.2" fill="#dcdcdc"/>
<circle cx="373.17" cy="307.50" r="2.4" fill="#ee3b1f"/>
<circle cx="381.15" cy="307.50" r="2.2" fill="#dcdcdc"/>
<circle cx="381.15" cy="327.40" r="2.2" fill="#dcdcdc"/>
<circle cx="381.15" cy="337.35" r="2.2" fill="#dcdcdc"/>
<circle cx="381.15" cy="347.30" r="2.2" fill="#dcdcdc"/>
<circle cx="381.15" cy="357.25" r="2.2" fill="#dcdcdc"/>
<circle cx="381.15" cy="367.20" r="2.2" fill="#dcdcdc"/>
<circle cx="381.15" cy="317.45" r="2.4" fill="#ee3b1f"/>
<circle cx="389.14" cy="307.50" r="2.2" fill="#dcdcdc"/>
<circle cx="389.14" cy="317.45" r="2.2" fill="#dcdcdc"/>
<circle cx="389.14" cy="327.40" r="2.2" fill="#dcdcdc"/>
<circle cx="389.14" cy="347.30" r="2.2" fill="#dcdcdc"/>
<circle cx="389.14" cy="357.25" r="2.2" fill="#dcdcdc"/>
<circle cx="389.14" cy="367.20" r="2.2" fill="#dcdcdc"/>
<circle cx="389.14" cy="337.35" r="2.4" fill="#ee3b1f"/>
<circle cx="397.12" cy="327.40" r="2.2" fill="#dcdcdc"/>
<circle cx="397.12" cy="337.35" r="2.2" fill="#dcdcdc"/>
<circle cx="397.12" cy="347.30" r="2.2" fill="#dcdcdc"/>
<circle cx="397.12" cy="357.25" r="2.2" fill="#dcdcdc"/>
<circle cx="397.12" cy="367.20" r="2.2" fill="#dcdcdc"/>
<line x1="397.12" x2="397.12" y1="307.50" y2="317.45" stroke="#ee3b1f" stroke-width="1.8"/>
<circle cx="397.12" cy="307.50" r="2.4" fill="#ee3b1f"/>
<circle cx="397.12" cy="317.45" r="2.4" fill="#ee3b1f"/>
<circle cx="405.11" cy="307.50" r="2.2" fill="#dcdcdc"/>
<circle cx="405.11" cy="337.35" r="2.2" fill="#dcdcdc"/>
<circle cx="405.11" cy="347.30" r="2.2" fill="#dcdcdc"/>
<circle cx="405.11" cy="357.25" r="2.2" fill="#dcdcdc"/>
<circle cx="405.11" cy="367.20" r="2.2" fill="#dcdcdc"/>
<line x1="405.11" x2="405.11" y1="317.45" y2="327.40" stroke="#ee3b1f" stroke-width="1.8"/>
<circle cx="405.11" cy="317.45" r="2.4" fill="#ee3b1f"/>
<circle cx="405.11" cy="327.40" r="2.4" fill="#ee3b1f"/>
<circle cx="413.09" cy="307.50" r="2.2" fill="#dcdcdc"/>
<circle cx="413.09" cy="327.40" r="2.2" fill="#dcdcdc"/>
<circle cx="413.09" cy="347.30" r="2.2" fill="#dcdcdc"/>
<circle cx="413.09" cy="357.25" r="2.2" fill="#dcdcdc"/>
<circle cx="413.09" cy="367.20" r="2.2" fill="#dcdcdc"/>
<line x1="413.09" x2="413.09" y1="317.45" y2="337.35" stroke="#ee3b1f" stroke-width="1.8"/>
<circle cx="413.09" cy="317.45" r="2.4" fill="#ee3b1f"/>
<circle cx="413.09" cy="337.35" r="2.4" fill="#ee3b1f"/>
<circle cx="421.08" cy="317.45" r="2.2" fill="#dcdcdc"/>
<circle cx="421.08" cy="337.35" r="2.2" fill="#dcdcdc"/>
<circle cx="421.08" cy="347.30" r="2.2" fill="#dcdcdc"/>
<circle cx="421.08" cy="357.25" r="2.2" fill="#dcdcdc"/>
<circle cx="421.08" cy="367.20" r="2.2" fill="#dcdcdc"/>
<line x1="421.08" x2="421.08" y1="307.50" y2="327.40" stroke="#ee3b1f" stroke-width="1.8"/>
<circle cx="421.08" cy="307.50" r="2.4" fill="#ee3b1f"/>
<circle cx="421.08" cy="327.40" r="2.4" fill="#ee3b1f"/>
<circle cx="429.06" cy="337.35" r="2.2" fill="#dcdcdc"/>
<circle cx="429.06" cy="347.30" r="2.2" fill="#dcdcdc"/>
<circle cx="429.06" cy="357.25" r="2.2" fill="#dcdcdc"/>
<circle cx="429.06" cy="367.20" r="2.2" fill="#dcdcdc"/>
<line x1="429.06" x2="429.06" y1="307.50" y2="327.40" stroke="#ee3b1f" stroke-width="1.8"/>
<circle cx="429.06" cy="307.50" r="2.4" fill="#ee3b1f"/>
<circle cx="429.06" cy="317.45" r="2.4" fill="#ee3b1f"/>
<circle cx="429.06" cy="327.40" r="2.4" fill="#ee3b1f"/>
<circle cx="437.05" cy="307.50" r="2.2" fill="#dcdcdc"/>
<circle cx="437.05" cy="317.45" r="2.2" fill="#dcdcdc"/>
<circle cx="437.05" cy="327.40" r="2.2" fill="#dcdcdc"/>
<circle cx="437.05" cy="347.30" r="2.2" fill="#dcdcdc"/>
<circle cx="437.05" cy="357.25" r="2.2" fill="#dcdcdc"/>
<line x1="437.05" x2="437.05" y1="337.35" y2="367.20" stroke="#ee3b1f" stroke-width="1.8"/>
<circle cx="437.05" cy="337.35" r="2.4" fill="#ee3b1f"/>
<circle cx="437.05" cy="367.20" r="2.4" fill="#ee3b1f"/>
<circle cx="445.03" cy="307.50" r="2.2" fill="#dcdcdc"/>
<circle cx="445.03" cy="317.45" r="2.2" fill="#dcdcdc"/>
<circle cx="445.03" cy="347.30" r="2.2" fill="#dcdcdc"/>
<circle cx="445.03" cy="357.25" r="2.2" fill="#dcdcdc"/>
<circle cx="445.03" cy="367.20" r="2.2" fill="#dcdcdc"/>
<line x1="445.03" x2="445.03" y1="327.40" y2="337.35" stroke="#ee3b1f" stroke-width="1.8"/>
<circle cx="445.03" cy="327.40" r="2.4" fill="#ee3b1f"/>
<circle cx="445.03" cy="337.35" r="2.4" fill="#ee3b1f"/>
<circle cx="453.02" cy="307.50" r="2.2" fill="#dcdcdc"/>
<circle cx="453.02" cy="327.40" r="2.2" fill="#dcdcdc"/>
<circle cx="453.02" cy="337.35" r="2.2" fill="#dcdcdc"/>
<circle cx="453.02" cy="347.30" r="2.2" fill="#dcdcdc"/>
<circle cx="453.02" cy="357.25" r="2.2" fill="#dcdcdc"/>
<line x1="453.02" x2="453.02" y1="317.45" y2="367.20" stroke="#ee3b1f" stroke-width="1.8"/>
<circle cx="453.02" cy="317.45" r="2.4" fill="#ee3b1f"/>
<circle cx="453.02" cy="367.20" r="2.4" fill="#ee3b1f"/>
<circle cx="461.00" cy="307.50" r="2.2" fill="#dcdcdc"/>
<circle cx="461.00" cy="317.45" r="2.2" fill="#dcdcdc"/>
<circle cx="461.00" cy="327.40" r="2.2" fill="#dcdcdc"/>
<circle cx="461.00" cy="337.35" r="2.2" fill="#dcdcdc"/>
<circle cx="461.00" cy="357.25" r="2.2" fill="#dcdcdc"/>
<circle cx="461.00" cy="367.20" r="2.2" fill="#dcdcdc"/>
<circle cx="461.00" cy="347.30" r="2.4" fill="#ee3b1f"/>
<circle cx="468.99" cy="307.50" r="2.2" fill="#dcdcdc"/>
<circle cx="468.99" cy="347.30" r="2.2" fill="#dcdcdc"/>
<circle cx="468.99" cy="357.25" r="2.2" fill="#dcdcdc"/>
<circle cx="468.99" cy="367.20" r="2.2" fill="#dcdcdc"/>
<line x1="468.99" x2="468.99" y1="317.45" y2="337.35" stroke="#ee3b1f" stroke-width="1.8"/>
<circle cx="468.99" cy="317.45" r="2.4" fill="#ee3b1f"/>
<circle cx="468.99" cy="327.40" r="2.4" fill="#ee3b1f"/>
<circle cx="468.99" cy="337.35" r="2.4" fill="#ee3b1f"/>
<circle cx="476.98" cy="327.40" r="2.2" fill="#dcdcdc"/>
<circle cx="476.98" cy="347.30" r="2.2" fill="#dcdcdc"/>
<circle cx="476.98" cy="357.25" r="2.2" fill="#dcdcdc"/>
<circle cx="476.98" cy="367.20" r="2.2" fill="#dcdcdc"/>
<line x1="476.98" x2="476.98" y1="307.50" y2="337.35" stroke="#ee3b1f" stroke-width="1.8"/>
<circle cx="476.98" cy="307.50" r="2.4" fill="#ee3b1f"/>
<circle cx="476.98" cy="317.45" r="2.4" fill="#ee3b1f"/>
<circle cx="476.98" cy="337.35" r="2.4" fill="#ee3b1f"/>
<circle cx="484.96" cy="317.45" r="2.2" fill="#dcdcdc"/>
<circle cx="484.96" cy="327.40" r="2.2" fill="#dcdcdc"/>
<circle cx="484.96" cy="347.30" r="2.2" fill="#dcdcdc"/>
<circle cx="484.96" cy="357.25" r="2.2" fill="#dcdcdc"/>
<circle cx="484.96" cy="367.20" r="2.2" fill="#dcdcdc"/>
<line x1="484.96" x2="484.96" y1="307.50" y2="337.35" stroke="#ee3b1f" stroke-width="1.8"/>
<circle cx="484.96" cy="307.50" r="2.4" fill="#ee3b1f"/>
<circle cx="484.96" cy="337.35" r="2.4" fill="#ee3b1f"/>
<circle cx="492.94" cy="317.45" r="2.2" fill="#dcdcdc"/>
<circle cx="492.94" cy="327.40" r="2.2" fill="#dcdcdc"/>
<circle cx="492.94" cy="337.35" r="2.2" fill="#dcdcdc"/>
<circle cx="492.94" cy="347.30" r="2.2" fill="#dcdcdc"/>
<circle cx="492.94" cy="357.25" r="2.2" fill="#dcdcdc"/>
<line x1="492.94" x2="492.94" y1="307.50" y2="367.20" stroke="#ee3b1f" stroke-width="1.8"/>
<circle cx="492.94" cy="307.50" r="2.4" fill="#ee3b1f"/>
<circle cx="492.94" cy="367.20" r="2.4" fill="#ee3b1f"/>
<circle cx="500.93" cy="307.50" r="2.2" fill="#dcdcdc"/>
<circle cx="500.93" cy="337.35" r="2.2" fill="#dcdcdc"/>
<circle cx="500.93" cy="347.30" r="2.2" fill="#dcdcdc"/>
<circle cx="500.93" cy="367.20" r="2.2" fill="#dcdcdc"/>
<line x1="500.93" x2="500.93" y1="317.45" y2="357.25" stroke="#ee3b1f" stroke-width="1.8"/>
<circle cx="500.93" cy="317.45" r="2.4" fill="#ee3b1f"/>
<circle cx="500.93" cy="327.40" r="2.4" fill="#ee3b1f"/>
<circle cx="500.93" cy="357.25" r="2.4" fill="#ee3b1f"/>
<circle cx="508.91" cy="307.50" r="2.2" fill="#dcdcdc"/>
<circle cx="508.91" cy="317.45" r="2.2" fill="#dcdcdc"/>
<circle cx="508.91" cy="327.40" r="2.2" fill="#dcdcdc"/>
<circle cx="508.91" cy="357.25" r="2.2" fill="#dcdcdc"/>
<circle cx="508.91" cy="367.20" r="2.2" fill="#dcdcdc"/>
<line x1="508.91" x2="508.91" y1="337.35" y2="347.30" stroke="#ee3b1f" stroke-width="1.8"/>
<circle cx="508.91" cy="337.35" r="2.4" fill="#ee3b1f"/>
<circle cx="508.91" cy="347.30" r="2.4" fill="#ee3b1f"/>
<circle cx="516.90" cy="307.50" r="2.2" fill="#dcdcdc"/>
<circle cx="516.90" cy="327.40" r="2.2" fill="#dcdcdc"/>
<circle cx="516.90" cy="347.30" r="2.2" fill="#dcdcdc"/>
<circle cx="516.90" cy="357.25" r="2.2" fill="#dcdcdc"/>
<line x1="516.90" x2="516.90" y1="317.45" y2="367.20" stroke="#ee3b1f" stroke-width="1.8"/>
<circle cx="516.90" cy="317.45" r="2.4" fill="#ee3b1f"/>
<circle cx="516.90" cy="337.35" r="2.4" fill="#ee3b1f"/>
<circle cx="516.90" cy="367.20" r="2.4" fill="#ee3b1f"/>
<circle cx="524.88" cy="307.50" r="2.2" fill="#dcdcdc"/>
<circle cx="524.88" cy="327.40" r="2.2" fill="#dcdcdc"/>
<circle cx="524.88" cy="337.35" r="2.2" fill="#dcdcdc"/>
<circle cx="524.88" cy="347.30" r="2.2" fill="#dcdcdc"/>
<circle cx="524.88" cy="367.20" r="2.2" fill="#dcdcdc"/>
<line x1="524.88" x2="524.88" y1="317.45" y2="357.25" stroke="#ee3b1f" stroke-width="1.8"/>
<circle cx="524.88" cy="317.45" r="2.4" fill="#ee3b1f"/>
<circle cx="524.88" cy="357.25" r="2.4" fill="#ee3b1f"/>
<circle cx="532.87" cy="307.50" r="2.2" fill="#dcdcdc"/>
<circle cx="532.87" cy="317.45" r="2.2" fill="#dcdcdc"/>
<circle cx="532.87" cy="327.40" r="2.2" fill="#dcdcdc"/>
<circle cx="532.87" cy="347.30" r="2.2" fill="#dcdcdc"/>
<circle cx="532.87" cy="367.20" r="2.2" fill="#dcdcdc"/>
<line x1="532.87" x2="532.87" y1="337.35" y2="357.25" stroke="#ee3b1f" stroke-width="1.8"/>
<circle cx="532.87" cy="337.35" r="2.4" fill="#ee3b1f"/>
<circle cx="532.87" cy="357.25" r="2.4" fill="#ee3b1f"/>
<circle cx="540.86" cy="307.50" r="2.2" fill="#dcdcdc"/>
<circle cx="540.86" cy="327.40" r="2.2" fill="#dcdcdc"/>
<circle cx="540.86" cy="347.30" r="2.2" fill="#dcdcdc"/>
<circle cx="540.86" cy="367.20" r="2.2" fill="#dcdcdc"/>
<line x1="540.86" x2="540.86" y1="317.45" y2="357.25" stroke="#ee3b1f" stroke-width="1.8"/>
<circle cx="540.86" cy="317.45" r="2.4" fill="#ee3b1f"/>
<circle cx="540.86" cy="337.35" r="2.4" fill="#ee3b1f"/>
<circle cx="540.86" cy="357.25" r="2.4" fill="#ee3b1f"/>
<circle cx="548.84" cy="307.50" r="2.2" fill="#dcdcdc"/>
<circle cx="548.84" cy="327.40" r="2.2" fill="#dcdcdc"/>
<circle cx="548.84" cy="357.25" r="2.2" fill="#dcdcdc"/>
<circle cx="548.84" cy="367.20" r="2.2" fill="#dcdcdc"/>
<line x1="548.84" x2="548.84" y1="317.45" y2="347.30" stroke="#ee3b1f" stroke-width="1.8"/>
<circle cx="548.84" cy="317.45" r="2.4" fill="#ee3b1f"/>
<circle cx="548.84" cy="337.35" r="2.4" fill="#ee3b1f"/>
<circle cx="548.84" cy="347.30" r="2.4" fill="#ee3b1f"/>
<circle cx="556.83" cy="307.50" r="2.2" fill="#dcdcdc"/>
<circle cx="556.83" cy="317.45" r="2.2" fill="#dcdcdc"/>
<circle cx="556.83" cy="327.40" r="2.2" fill="#dcdcdc"/>
<circle cx="556.83" cy="347.30" r="2.2" fill="#dcdcdc"/>
<line x1="556.83" x2="556.83" y1="337.35" y2="367.20" stroke="#ee3b1f" stroke-width="1.8"/>
<circle cx="556.83" cy="337.35" r="2.4" fill="#ee3b1f"/>
<circle cx="556.83" cy="357.25" r="2.4" fill="#ee3b1f"/>
<circle cx="556.83" cy="367.20" r="2.4" fill="#ee3b1f"/>
<circle cx="564.81" cy="307.50" r="2.2" fill="#dcdcdc"/>
<circle cx="564.81" cy="327.40" r="2.2" fill="#dcdcdc"/>
<circle cx="564.81" cy="337.35" r="2.2" fill="#dcdcdc"/>
<circle cx="564.81" cy="357.25" r="2.2" fill="#dcdcdc"/>
<circle cx="564.81" cy="367.20" r="2.2" fill="#dcdcdc"/>
<line x1="564.81" x2="564.81" y1="317.45" y2="347.30" stroke="#ee3b1f" stroke-width="1.8"/>
<circle cx="564.81" cy="317.45" r="2.4" fill="#ee3b1f"/>
<circle cx="564.81" cy="347.30" r="2.4" fill="#ee3b1f"/>
<circle cx="572.79" cy="317.45" r="2.2" fill="#dcdcdc"/>
<circle cx="572.79" cy="327.40" r="2.2" fill="#dcdcdc"/>
<circle cx="572.79" cy="337.35" r="2.2" fill="#dcdcdc"/>
<circle cx="572.79" cy="357.25" r="2.2" fill="#dcdcdc"/>
<circle cx="572.79" cy="367.20" r="2.2" fill="#dcdcdc"/>
<line x1="572.79" x2="572.79" y1="307.50" y2="347.30" stroke="#ee3b1f" stroke-width="1.8"/>
<circle cx="572.79" cy="307.50" r="2.4" fill="#ee3b1f"/>
<circle cx="572.79" cy="347.30" r="2.4" fill="#ee3b1f"/>
<circle cx="580.78" cy="307.50" r="2.2" fill="#dcdcdc"/>
<circle cx="580.78" cy="317.45" r="2.2" fill="#dcdcdc"/>
<circle cx="580.78" cy="327.40" r="2.2" fill="#dcdcdc"/>
<circle cx="580.78" cy="337.35" r="2.2" fill="#dcdcdc"/>
<circle cx="580.78" cy="347.30" r="2.2" fill="#dcdcdc"/>
<circle cx="580.78" cy="367.20" r="2.2" fill="#dcdcdc"/>
<circle cx="580.78" cy="357.25" r="2.4" fill="#ee3b1f"/>
<circle cx="588.76" cy="317.45" r="2.2" fill="#dcdcdc"/>
<circle cx="588.76" cy="347.30" r="2.2" fill="#dcdcdc"/>
<circle cx="588.76" cy="357.25" r="2.2" fill="#dcdcdc"/>
<circle cx="588.76" cy="367.20" r="2.2" fill="#dcdcdc"/>
<line x1="588.76" x2="588.76" y1="307.50" y2="337.35" stroke="#ee3b1f" stroke-width="1.8"/>
<circle cx="588.76" cy="307.50" r="2.4" fill="#ee3b1f"/>
<circle cx="588.76" cy="327.40" r="2.4" fill="#ee3b1f"/>
<circle cx="588.76" cy="337.35" r="2.4" fill="#ee3b1f"/>
<circle cx="596.75" cy="307.50" r="2.2" fill="#dcdcdc"/>
<circle cx="596.75" cy="337.35" r="2.2" fill="#dcdcdc"/>
<circle cx="596.75" cy="357.25" r="2.2" fill="#dcdcdc"/>
<circle cx="596.75" cy="367.20" r="2.2" fill="#dcdcdc"/>
<line x1="596.75" x2="596.75" y1="317.45" y2="347.30" stroke="#ee3b1f" stroke-width="1.8"/>
<circle cx="596.75" cy="317.45" r="2.4" fill="#ee3b1f"/>
<circle cx="596.75" cy="327.40" r="2.4" fill="#ee3b1f"/>
<circle cx="596.75" cy="347.30" r="2.4" fill="#ee3b1f"/>
<circle cx="604.74" cy="307.50" r="2.2" fill="#dcdcdc"/>
<circle cx="604.74" cy="317.45" r="2.2" fill="#dcdcdc"/>
<circle cx="604.74" cy="337.35" r="2.2" fill="#dcdcdc"/>
<circle cx="604.74" cy="357.25" r="2.2" fill="#dcdcdc"/>
<circle cx="604.74" cy="367.20" r="2.2" fill="#dcdcdc"/>
<line x1="604.74" x2="604.74" y1="327.40" y2="347.30" stroke="#ee3b1f" stroke-width="1.8"/>
<circle cx="604.74" cy="327.40" r="2.4" fill="#ee3b1f"/>
<circle cx="604.74" cy="347.30" r="2.4" fill="#ee3b1f"/>
<circle cx="612.72" cy="307.50" r="2.2" fill="#dcdcdc"/>
<circle cx="612.72" cy="317.45" r="2.2" fill="#dcdcdc"/>
<circle cx="612.72" cy="337.35" r="2.2" fill="#dcdcdc"/>
<circle cx="612.72" cy="347.30" r="2.2" fill="#dcdcdc"/>
<circle cx="612.72" cy="367.20" r="2.2" fill="#dcdcdc"/>
<line x1="612.72" x2="612.72" y1="327.40" y2="357.25" stroke="#ee3b1f" stroke-width="1.8"/>
<circle cx="612.72" cy="327.40" r="2.4" fill="#ee3b1f"/>
<circle cx="612.72" cy="357.25" r="2.4" fill="#ee3b1f"/>
<circle cx="620.70" cy="347.30" r="2.2" fill="#dcdcdc"/>
<circle cx="620.70" cy="357.25" r="2.2" fill="#dcdcdc"/>
<circle cx="620.70" cy="367.20" r="2.2" fill="#dcdcdc"/>
<line x1="620.70" x2="620.70" y1="307.50" y2="337.35" stroke="#ee3b1f" stroke-width="1.8"/>
<circle cx="620.70" cy="307.50" r="2.4" fill="#ee3b1f"/>
<circle cx="620.70" cy="317.45" r="2.4" fill="#ee3b1f"/>
<circle cx="620.70" cy="327.40" r="2.4" fill="#ee3b1f"/>
<circle cx="620.70" cy="337.35" r="2.4" fill="#ee3b1f"/>
<circle cx="628.69" cy="337.35" r="2.2" fill="#dcdcdc"/>
<circle cx="628.69" cy="347.30" r="2.2" fill="#dcdcdc"/>
<circle cx="628.69" cy="367.20" r="2.2" fill="#dcdcdc"/>
<line x1="628.69" x2="628.69" y1="307.50" y2="357.25" stroke="#ee3b1f" stroke-width="1.8"/>
<circle cx="628.69" cy="307.50" r="2.4" fill="#ee3b1f"/>
<circle cx="628.69" cy="317.45" r="2.4" fill="#ee3b1f"/>
<circle cx="628.69" cy="327.40" r="2.4" fill="#ee3b1f"/>
<circle cx="628.69" cy="357.25" r="2.4" fill="#ee3b1f"/>
<circle cx="636.67" cy="307.50" r="2.2" fill="#dcdcdc"/>
<circle cx="636.67" cy="317.45" r="2.2" fill="#dcdcdc"/>
<circle cx="636.67" cy="337.35" r="2.2" fill="#dcdcdc"/>
<circle cx="636.67" cy="347.30" r="2.2" fill="#dcdcdc"/>
<circle cx="636.67" cy="357.25" r="2.2" fill="#dcdcdc"/>
<line x1="636.67" x2="636.67" y1="327.40" y2="367.20" stroke="#ee3b1f" stroke-width="1.8"/>
<circle cx="636.67" cy="327.40" r="2.4" fill="#ee3b1f"/>
<circle cx="636.67" cy="367.20" r="2.4" fill="#ee3b1f"/>
<circle cx="644.66" cy="327.40" r="2.2" fill="#dcdcdc"/>
<circle cx="644.66" cy="337.35" r="2.2" fill="#dcdcdc"/>
<circle cx="644.66" cy="357.25" r="2.2" fill="#dcdcdc"/>
<circle cx="644.66" cy="367.20" r="2.2" fill="#dcdcdc"/>
<line x1="644.66" x2="644.66" y1="307.50" y2="347.30" stroke="#ee3b1f" stroke-width="1.8"/>
<circle cx="644.66" cy="307.50" r="2.4" fill="#ee3b1f"/>
<circle cx="644.66" cy="317.45" r="2.4" fill="#ee3b1f"/>
<circle cx="644.66" cy="347.30" r="2.4" fill="#ee3b1f"/>
<circle cx="652.64" cy="307.50" r="2.2" fill="#dcdcdc"/>
<circle cx="652.64" cy="317.45" r="2.2" fill="#dcdcdc"/>
<circle cx="652.64" cy="327.40" r="2.2" fill="#dcdcdc"/>
<circle cx="652.64" cy="337.35" r="2.2" fill="#dcdcdc"/>
<circle cx="652.64" cy="357.25" r="2.2" fill="#dcdcdc"/>
<line x1="652.64" x2="652.64" y1="347.30" y2="367.20" stroke="#ee3b1f" stroke-width="1.8"/>
<circle cx="652.64" cy="347.30" r="2.4" fill="#ee3b1f"/>
<circle cx="652.64" cy="367.20" r="2.4" fill="#ee3b1f"/>
<circle cx="660.63" cy="327.40" r="2.2" fill="#dcdcdc"/>
<circle cx="660.63" cy="337.35" r="2.2" fill="#dcdcdc"/>
<circle cx="660.63" cy="347.30" r="2.2" fill="#dcdcdc"/>
<circle cx="660.63" cy="367.20" r="2.2" fill="#dcdcdc"/>
<line x1="660.63" x2="660.63" y1="307.50" y2="357.25" stroke="#ee3b1f" stroke-width="1.8"/>
<circle cx="660.63" cy="307.50" r="2.4" fill="#ee3b1f"/>
<circle cx="660.63" cy="317.45" r="2.4" fill="#ee3b1f"/>
<circle cx="660.63" cy="357.25" r="2.4" fill="#ee3b1f"/>
<circle cx="668.62" cy="307.50" r="2.2" fill="#dcdcdc"/>
<circle cx="668.62" cy="327.40" r="2.2" fill="#dcdcdc"/>
<circle cx="668.62" cy="337.35" r="2.2" fill="#dcdcdc"/>
<circle cx="668.62" cy="347.30" r="2.2" fill="#dcdcdc"/>
<line x1="668.62" x2="668.62" y1="317.45" y2="367.20" stroke="#ee3b1f" stroke-width="1.8"/>
<circle cx="668.62" cy="317.45" r="2.4" fill="#ee3b1f"/>
<circle cx="668.62" cy="357.25" r="2.4" fill="#ee3b1f"/>
<circle cx="668.62" cy="367.20" r="2.4" fill="#ee3b1f"/>
<text transform="translate(342.4,310.95) scale(0.94,1)" font-family="Liberation Sans, sans-serif" font-size="10" fill="#111" text-anchor="end">DE</text>
<text transform="translate(342.4,320.90) scale(0.94,1)" font-family="Liberation Sans, sans-serif" font-size="10" fill="#111" text-anchor="end">LT</text>
<text transform="translate(342.4,330.85) scale(0.94,1)" font-family="Liberation Sans, sans-serif" font-size="10" fill="#111" text-anchor="end">HO</text>
<text transform="translate(342.4,340.80) scale(0.94,1)" font-family="Liberation Sans, sans-serif" font-size="10" fill="#111" text-anchor="end">DS</text>
<text transform="translate(342.4,350.75) scale(0.94,1)" font-family="Liberation Sans, sans-serif" font-size="10" fill="#111" text-anchor="end">CA</text>
<text transform="translate(342.4,360.70) scale(0.94,1)" font-family="Liberation Sans, sans-serif" font-size="10" fill="#111" text-anchor="end">RI</text>
<text transform="translate(342.4,370.65) scale(0.94,1)" font-family="Liberation Sans, sans-serif" font-size="10" fill="#111" text-anchor="end">OT</text>
<line x1="513.2" x2="653.3" y1="221.60" y2="221.60" stroke="#c8c8c8" stroke-width="1" stroke-dasharray="4.5 4.8"/>
<line x1="513.2" x2="653.3" y1="178.20" y2="178.20" stroke="#c8c8c8" stroke-width="1" stroke-dasharray="4.5 4.8"/>
<line x1="513.2" x2="653.3" y1="134.80" y2="134.80" stroke="#c8c8c8" stroke-width="1" stroke-dasharray="4.5 4.8"/>
<line x1="513.2" x2="653.3" y1="91.40" y2="91.40" stroke="#c8c8c8" stroke-width="1" stroke-dasharray="4.5 4.8"/>
<line x1="513.2" x2="653.3" y1="48.00" y2="48.00" stroke="#c8c8c8" stroke-width="1" stroke-dasharray="4.5 4.8"/>
<line x1="513.2" x2="653.3" y1="243.30" y2="243.30" stroke="#c8c8c8" stroke-width="1"/>
<line x1="513.2" x2="653.3" y1="199.90" y2="199.90" stroke="#c8c8c8" stroke-width="1"/>
<line x1="513.2" x2="653.3" y1="156.50" y2="156.50" stroke="#c8c8c8" stroke-width="1"/>
<line x1="513.2" x2="653.3" y1="113.10" y2="113.10" stroke="#c8c8c8" stroke-width="1"/>
<line x1="513.2" x2="653.3" y1="69.70" y2="69.70" stroke="#c8c8c8" stroke-width="1"/>
<line x1="524.20" x2="524.20" y1="36.7" y2="252.2" stroke="#c8c8c8" stroke-width="1"/>
<line x1="543.77" x2="543.77" y1="36.7" y2="252.2" stroke="#c8c8c8" stroke-width="1"/>
<line x1="563.34" x2="563.34" y1="36.7" y2="252.2" stroke="#c8c8c8" stroke-width="1"/>
<line x1="582.91" x2="582.91" y1="36.7" y2="252.2" stroke="#c8c8c8" stroke-width="1"/>
<line x1="602.48" x2="602.48" y1="36.7" y2="252.2" stroke="#c8c8c8" stroke-width="1"/>
<line x1="622.05" x2="622.05" y1="36.7" y2="252.2" stroke="#c8c8c8" stroke-width="1"/>
<line x1="641.62" x2="641.62" y1="36.7" y2="252.2" stroke="#c8c8c8" stroke-width="1"/>
<rect x="515.60" y="117.87" width="17.2" height="125.43" fill="#8fbcdc" stroke="#3a3a3a" stroke-width="0.9"/>
<rect x="535.17" y="82.60" width="17.2" height="160.70" fill="#8fbcdc" stroke="#3a3a3a" stroke-width="0.9"/>
<rect x="554.74" y="45.80" width="17.2" height="197.50" fill="#8fbcdc" stroke="#3a3a3a" stroke-width="0.9"/>
<rect x="574.31" y="148.60" width="17.2" height="94.70" fill="#8fbcdc" stroke="#3a3a3a" stroke-width="0.9"/>
<rect x="593.88" y="237.31" width="17.2" height="5.99" fill="#8fbcdc" stroke="#3a3a3a" stroke-width="0.9"/>
<rect x="613.45" y="237.92" width="17.2" height="5.38" fill="#8fbcdc" stroke="#3a3a3a" stroke-width="0.9"/>
<rect x="633.02" y="167.30" width="17.2" height="76.00" fill="#8fbcdc" stroke="#3a3a3a" stroke-width="0.9"/>
<rect x="513.2" y="36.7" width="140.10" height="215.50" fill="none" stroke="#333" stroke-width="1.1"/>
<line x1="507.20000000000005" x2="513.2" y1="243.30" y2="243.30" stroke="#333" stroke-width="1.8"/>
<text x="502.6" y="246.70" font-family="Liberation Sans, sans-serif" font-size="9.5" fill="#555" text-anchor="end">0</text>
<line x1="507.20000000000005" x2="513.2" y1="199.90" y2="199.90" stroke="#333" stroke-width="1.8"/>
<text x="502.6" y="203.30" font-family="Liberation Sans, sans-serif" font-size="9.5" fill="#555" text-anchor="end">5000</text>
<line x1="507.20000000000005" x2="513.2" y1="156.50" y2="156.50" stroke="#333" stroke-width="1.8"/>
<text x="502.6" y="159.90" font-family="Liberation Sans, sans-serif" font-size="9.5" fill="#555" text-anchor="end">10000</text>
<line x1="507.20000000000005" x2="513.2" y1="113.10" y2="113.10" stroke="#333" stroke-width="1.8"/>
<text x="502.6" y="116.50" font-family="Liberation Sans, sans-serif" font-size="9.5" fill="#555" text-anchor="end">15000</text>
<line x1="507.20000000000005" x2="513.2" y1="69.70" y2="69.70" stroke="#333" stroke-width="1.8"/>
<text x="502.6" y="73.10" font-family="Liberation Sans, sans-serif" font-size="9.5" fill="#555" text-anchor="end">20000</text>
<line x1="524.20" x2="524.20" y1="252.2" y2="258.0" stroke="#333" stroke-width="1.8"/>
<text x="524.20" y="270.5" font-family="Liberation Sans, sans-serif" font-size="9.5" fill="#555" text-anchor="middle">DE</text>
<line x1="543.77" x2="543.77" y1="252.2" y2="258.0" stroke="#333" stroke-width="1.8"/>
<text x="543.77" y="270.5" font-family="Liberation Sans, sans-serif" font-size="9.5" fill="#555" text-anchor="middle">LT</text>
<line x1="563.34" x2="563.34" y1="252.2" y2="258.0" stroke="#333" stroke-width="1.8"/>
<text x="563.34" y="270.5" font-family="Liberation Sans, sans-serif" font-size="9.5" fill="#555" text-anchor="middle">HO</text>
<line x1="582.91" x2="582.91" y1="252.2" y2="258.0" stroke="#333" stroke-width="1.8"/>
<text x="582.91" y="270.5" font-family="Liberation Sans, sans-serif" font-size="9.5" fill="#555" text-anchor="middle">DS</text>
<line x1="602.48" x2="602.48" y1="252.2" y2="258.0" stroke="#333" stroke-width="1.8"/>
<text x="602.48" y="270.5" font-family="Liberation Sans, sans-serif" font-size="9.5" fill="#555" text-anchor="middle">CA</text>
<line x1="622.05" x2="622.05" y1="252.2" y2="258.0" stroke="#333" stroke-width="1.8"/>
<text x="622.05" y="270.5" font-family="Liberation Sans, sans-serif" font-size="9.5" fill="#555" text-anchor="middle">RI</text>
<line x1="641.62" x2="641.62" y1="252.2" y2="258.0" stroke="#333" stroke-width="1.8"/>
<text x="641.62" y="270.5" font-family="Liberation Sans, sans-serif" font-size="9.5" fill="#555" text-anchor="middle">OT</text>
<text transform="translate(467.9,145.45) rotate(-90)" font-family="Liberation Sans, sans-serif" font-size="14.45" fill="#111" text-anchor="middle">Number of samples</text>
</svg>
</body></html>
